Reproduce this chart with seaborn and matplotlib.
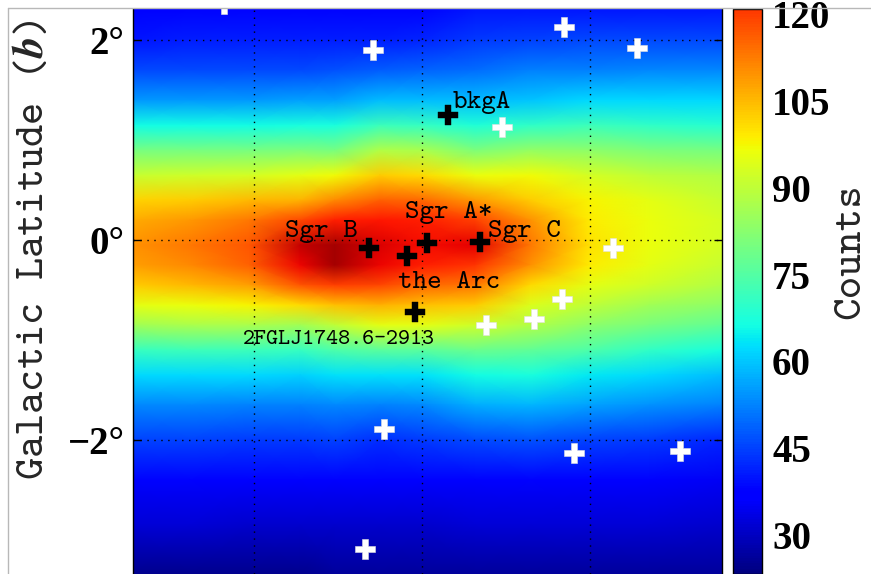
import numpy as np
import matplotlib
matplotlib.use("Agg")
import matplotlib.pyplot as plt
from matplotlib.colors import Normalize
from matplotlib.lines import Line2D
import seaborn as sns

sns.set_theme(style="white")
plt.rcParams['mathtext.fontset'] = 'cm'
plt.rcParams['font.family'] = ['cmtt10', 'DejaVu Sans']

# ---------------- data ----------------
# galactic longitude of the sampled columns (deg) and latitude of the sampled rows (deg)
longitudes = [3.44, 2.76, 2.05, 1.45, 1.04, 0.50, 0.0, -0.63, -1.29, -2.0, -2.71, -3.57]
latitudes = [2.32, 2.0, 1.7, 1.4, 1.15, 0.9, 0.65, 0.4, 0.2, -0.05, -0.25,
             -0.45, -0.65, -0.85, -1.1, -1.35, -1.65, -2.0, -2.4, -2.85, -3.34]

# counts along each column (top to bottom)
counts_l344 = [37, 40, 46, 55, 66, 80, 91, 102, 107, 110, 108, 103, 95, 86, 71, 62, 53, 45, 38, 32, 25]
counts_l276 = [38, 41, 46, 55, 66, 80, 92, 103, 109, 113, 111, 105, 96, 87, 72, 62, 53, 45, 38, 32, 25]
counts_l205 = [38, 41, 46, 55, 66, 80, 93, 105, 113, 117, 116, 108, 98, 87, 72, 62, 52, 44, 37, 31, 25]
counts_l145 = [38, 41, 46, 56, 67, 81, 95, 106, 119, 131, 127, 117, 101, 86, 71, 61, 52, 44, 36, 31, 25]
counts_l104 = [38, 41, 47, 56, 67, 80, 97, 111, 124, 134, 134, 120, 104, 90, 74, 63, 53, 45, 37, 31, 26]
counts_l050 = [38, 41, 48, 59, 72, 88, 103, 116, 125, 129, 127, 119, 106, 95, 76, 63, 52, 43, 36, 31, 26]
counts_l000 = [38, 42, 49, 59, 71, 87, 101, 115, 124, 126, 124, 115, 104, 95, 76, 63, 53, 44, 36, 31, 26]
counts_lm063 = [40, 44, 50, 59, 68, 81, 96, 109, 120, 128, 121, 113, 103, 92, 78, 66, 57, 46, 37, 32, 26]
counts_lm129 = [40, 45, 52, 60, 70, 84, 97, 103, 110, 113, 110, 101, 94, 88, 77, 67, 58, 47, 38, 32, 26]
counts_lm200 = [40, 46, 52, 62, 72, 83, 93, 98, 99, 100, 99, 95, 90, 83, 74, 64, 56, 45, 37, 32, 26]
counts_lm271 = [40, 46, 53, 62, 70, 81, 90, 95, 96, 96, 95, 92, 86, 80, 70, 62, 54, 44, 36, 32, 26]
counts_lm357 = [40, 46, 53, 62, 69, 80, 88, 91, 93, 93, 91, 88, 83, 77, 67, 59, 52, 42, 35, 31, 26]

# named sources (black crosses)
src_names = ["Sgr B", "the Arc", "Sgr A*", "Sgr C", "bkgA", "2FGLJ1748.6-2913"]
src_l = [0.63, 0.18, -0.06, -0.69, -0.31, 0.08]
src_b = [-0.08, -0.16, -0.03, -0.02, 1.25, -0.72]

# other sources (white crosses)
other_l = [2.36, 0.58, -1.69, -2.56, -0.95, -2.27, -1.67, -1.33, -0.76, 0.45, -1.81, -3.07, 0.68]
other_b = [2.37, 1.90, 2.13, 1.92, 1.13, -0.08, -0.59, -0.79, -0.85, -1.89, -2.13, -2.11, -3.09]

lat_ticks = [2, 0, -2]
lat_tick_labels = ['2°', '0°', '\u22122°']
lon_grid = [2, 0, -2]
cbar_ticks = [30, 45, 60, 75, 90, 105, 120]
cbar_tick_labels = ['30', '45', '60', '75', '90', '105', '120']

# ---------------- styling / layout ----------------
W, H = 871, 574
label_offsets = [(-11, 17, 'right'), (-9, -26, 'left'), (-22, 31, 'left'),
                 (8, 11, 'left'), (5, 13, 'left'), (-76, -27, 'center')]
label_sizes = [20, 20, 20, 20, 20, 16.5]
tick_font = dict(family=['Liberation Serif'], weight='bold', size=28)

counts = np.column_stack([counts_l344, counts_l276, counts_l205, counts_l145, counts_l104,
                          counts_l050, counts_l000, counts_lm063, counts_lm129,
                          counts_lm200, counts_lm271, counts_lm357]).astype(float)
L, B = np.meshgrid(longitudes, latitudes)

fig = plt.figure(figsize=(W / 100, H / 100), dpi=100)
fig.patch.set_facecolor('white')
ax = fig.add_axes([133 / W, 0, 589 / W, 1 - 8.5 / H])

norm = Normalize(vmin=23.3, vmax=138.0)
mesh = ax.pcolormesh(L, B, counts, shading='gouraud', cmap='jet', norm=norm)

sns.scatterplot(x=other_l, y=other_b, marker='P', s=190, color='white',
                edgecolor='#e0e0e0', linewidth=0.4, ax=ax, zorder=5, legend=False)
sns.scatterplot(x=src_l, y=src_b, marker='P', s=190, color='black',
                edgecolor='black', linewidth=0.3, ax=ax, zorder=6, legend=False)

for name, l, b, (dx, dy, ha), fs in zip(src_names, src_l, src_b, label_offsets, label_sizes):
    ax.annotate(name, (l, b), xytext=(dx, dy), textcoords='offset pixels',
                ha=ha, va='center', fontsize=fs, color='black', family=['cmtt10'], zorder=7)

ax.set_xlim(3.44, -3.57)
ax.set_ylim(-3.34, 2.32)
ax.set_xticks(lon_grid)
ax.set_yticks(lat_ticks)
ax.set_yticklabels(lat_tick_labels, fontdict=tick_font)
ax.tick_params(axis='x', length=0, labelbottom=False, bottom=False)
ax.tick_params(axis='y', direction='in', length=6, width=1, left=True, right=True,
               pad=6, colors='black')
ax.set_xlabel('')
ax.set_ylabel('')
ax.grid(True, color='black', linestyle=(0, (1, 4)), linewidth=1.0)
ax.set_axisbelow(False)
for side in ['top', 'bottom']:
    ax.spines[side].set_visible(False)
for side in ['left', 'right']:
    ax.spines[side].set_visible(True)
    ax.spines[side].set_color('black')
    ax.spines[side].set_linewidth(1.0)

# colorbar
cax = fig.add_axes([733.3 / W, 0, 29 / W, 1 - 8.7 / H])
cb = fig.colorbar(mesh, cax=cax)
cax.set_ylim(23.25, 121.0)
cb.set_ticks(cbar_ticks)
cax.set_yticklabels(cbar_tick_labels, fontdict=tick_font)
cax.tick_params(axis='y', direction='in', length=5, width=1, right=True, left=False,
                pad=7, colors='black')
cb.outline.set_edgecolor('black')
cb.outline.set_linewidth(1.0)

fig.text(33.5 / W, 1 - 250 / H, r'Galactic Latitude ($\boldsymbol{b}$)', rotation=90,
         ha='center', va='center', fontsize=30.5, family=['cmtt10'])
fig.text(851.5 / W, 1 - 251 / H, 'Counts', rotation=90, ha='center', va='center',
         fontsize=31, family=['cmtt10'])

# light frame of the original picture
fig.add_artist(Line2D([7.5 / W, 1], [1 - 7.5 / H] * 2, transform=fig.transFigure,
                      color='#b8b8b8', lw=1))
fig.add_artist(Line2D([7.5 / W] * 2, [0, 1 - 7.5 / H], transform=fig.transFigure,
                      color='#b8b8b8', lw=1))

fig.savefig('out.png', dpi=100)
